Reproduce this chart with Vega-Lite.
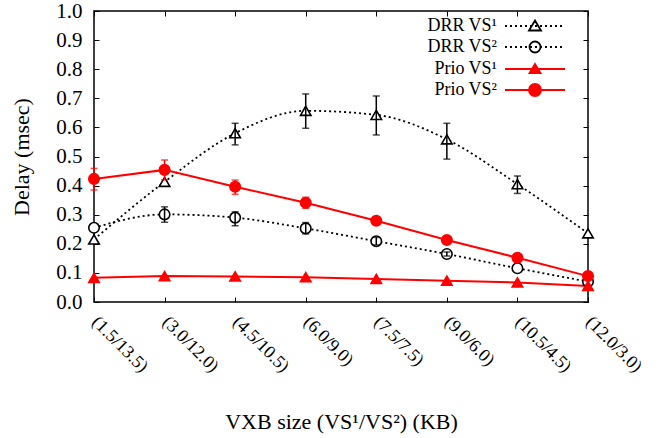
{
  "$schema": "https://vega.github.io/schema/vega-lite/v6.json",
  "width": 494,
  "height": 291,
  "autosize": {"type": "none"},
  "padding": {"left": 94, "top": 11, "right": 83, "bottom": 136},
  "background": "white",
  "config": {
    "view": {"stroke": "black", "strokeWidth": 1.5},
    "font": "Liberation Serif",
    "axis": {
      "grid": false, "domain": false, "tickSize": -5, "tickColor": "black", "tickWidth": 1,
      "labelFont": "Liberation Serif", "labelFontSize": 21, "labelColor": "black",
      "titleFont": "Liberation Serif", "titleFontSize": 22, "titleFontWeight": "normal", "titleColor": "black"
    },
    "legend": {
      "labelFont": "Liberation Serif", "labelFontSize": 18, "labelColor": "black",
      "symbolSize": 400, "symbolStrokeWidth": 1.8, "padding": 0, "rowPadding": 1,
      "labelAlign": "right", "labelOffset": -29
    }
  },
  "data": {
    "values": [
      {"series": "DRR VS¹", "x": "(1.5/13.5)", "y": 0.215},
      {"series": "DRR VS¹", "x": "(3.0/12.0)", "y": 0.413},
      {"series": "DRR VS¹", "x": "(4.5/10.5)", "y": 0.580, "lo": 0.540, "hi": 0.614},
      {"series": "DRR VS¹", "x": "(6.0/9.0)", "y": 0.657, "lo": 0.597, "hi": 0.715},
      {"series": "DRR VS¹", "x": "(7.5/7.5)", "y": 0.643, "lo": 0.574, "hi": 0.708},
      {"series": "DRR VS¹", "x": "(9.0/6.0)", "y": 0.559, "lo": 0.491, "hi": 0.614},
      {"series": "DRR VS¹", "x": "(10.5/4.5)", "y": 0.405, "lo": 0.373, "hi": 0.433},
      {"series": "DRR VS¹", "x": "(12.0/3.0)", "y": 0.236},
      {"series": "DRR VS²", "x": "(1.5/13.5)", "y": 0.255},
      {"series": "DRR VS²", "x": "(3.0/12.0)", "y": 0.301, "lo": 0.274, "hi": 0.327},
      {"series": "DRR VS²", "x": "(4.5/10.5)", "y": 0.290, "lo": 0.262, "hi": 0.310},
      {"series": "DRR VS²", "x": "(6.0/9.0)", "y": 0.253, "lo": 0.234, "hi": 0.273},
      {"series": "DRR VS²", "x": "(7.5/7.5)", "y": 0.209, "lo": 0.196, "hi": 0.222},
      {"series": "DRR VS²", "x": "(9.0/6.0)", "y": 0.165, "lo": 0.158, "hi": 0.172},
      {"series": "DRR VS²", "x": "(10.5/4.5)", "y": 0.116},
      {"series": "DRR VS²", "x": "(12.0/3.0)", "y": 0.070},
      {"series": "Prio VS¹", "x": "(1.5/13.5)", "y": 0.083},
      {"series": "Prio VS¹", "x": "(3.0/12.0)", "y": 0.089},
      {"series": "Prio VS¹", "x": "(4.5/10.5)", "y": 0.088},
      {"series": "Prio VS¹", "x": "(6.0/9.0)", "y": 0.085},
      {"series": "Prio VS¹", "x": "(7.5/7.5)", "y": 0.079},
      {"series": "Prio VS¹", "x": "(9.0/6.0)", "y": 0.073},
      {"series": "Prio VS¹", "x": "(10.5/4.5)", "y": 0.067},
      {"series": "Prio VS¹", "x": "(12.0/3.0)", "y": 0.055},
      {"series": "Prio VS²", "x": "(1.5/13.5)", "y": 0.423, "lo": 0.385, "hi": 0.459},
      {"series": "Prio VS²", "x": "(3.0/12.0)", "y": 0.454, "lo": 0.420, "hi": 0.488},
      {"series": "Prio VS²", "x": "(4.5/10.5)", "y": 0.396, "lo": 0.370, "hi": 0.419},
      {"series": "Prio VS²", "x": "(6.0/9.0)", "y": 0.341, "lo": 0.322, "hi": 0.360},
      {"series": "Prio VS²", "x": "(7.5/7.5)", "y": 0.279},
      {"series": "Prio VS²", "x": "(9.0/6.0)", "y": 0.213},
      {"series": "Prio VS²", "x": "(10.5/4.5)", "y": 0.152},
      {"series": "Prio VS²", "x": "(12.0/3.0)", "y": 0.089}
    ]
  },
  "layer": [
    {
      "transform": [{"filter": "indexof(datum.series, 'DRR') == 0"}],
      "mark": {"type": "line", "interpolate": "monotone", "color": "black", "strokeWidth": 1.8, "strokeDash": [2, 3]},
      "encoding": {
        "x": {"field": "x", "type": "ordinal", "scale": {"type": "point", "padding": 0, "domain": ["(1.5/13.5)","(3.0/12.0)","(4.5/10.5)","(6.0/9.0)","(7.5/7.5)","(9.0/6.0)","(10.5/4.5)","(12.0/3.0)"]},
          "axis": {"orient": "bottom", "title": "VXB size (VS¹/VS²) (KB)", "labelAngle": 45, "labelAlign": "left", "labelBaseline": "middle", "labelFontSize": 18, "labelPadding": 22, "titlePadding": 36}},
        "y": {"field": "y", "type": "quantitative", "scale": {"domain": [0, 1], "nice": false},
          "axis": {"orient": "left", "title": "Delay (msec)", "values": [0,0.1,0.2,0.3,0.4,0.5,0.6,0.7,0.8,0.9,1.0], "format": ".1f", "labelPadding": 17, "titlePadding": 22}},
        "detail": {"field": "series"}
      }
    },
    {
      "transform": [{"filter": "indexof(datum.series, 'Prio') == 0"}],
      "mark": {"type": "line", "color": "red", "strokeWidth": 2},
      "encoding": {
        "x": {"field": "x", "type": "ordinal", "axis": {"orient": "top", "labels": false, "title": null}},
        "y": {"field": "y", "type": "quantitative", "axis": {"orient": "right", "labels": false, "title": null, "values": [0,0.1,0.2,0.3,0.4,0.5,0.6,0.7,0.8,0.9,1.0]}},
        "detail": {"field": "series"}
      }
    },
    {
      "mark": {"type": "point", "size": 110, "strokeWidth": 1.6, "opacity": 1},
      "encoding": {
        "x": {"field": "x", "type": "ordinal", "axis": null},
        "y": {"field": "y", "type": "quantitative", "axis": null},
        "shape": {"field": "series", "type": "nominal", "legend": null,
          "scale": {"domain": ["DRR VS¹","DRR VS²","Prio VS¹","Prio VS²"], "range": ["triangle-up","circle","triangle-up","circle"]}},
        "stroke": {"field": "series", "type": "nominal", "legend": null,
          "scale": {"domain": ["DRR VS¹","DRR VS²","Prio VS¹","Prio VS²"], "range": ["black","black","red","red"]}},
        "fill": {"field": "series", "type": "nominal", "legend": null,
          "scale": {"domain": ["DRR VS¹","DRR VS²","Prio VS¹","Prio VS²"], "range": ["white","white","red","red"]}}
      }
    },
    {
      "transform": [{"filter": "isValid(datum.lo)"}],
      "mark": {"type": "rule", "strokeWidth": 1.5},
      "encoding": {
        "x": {"field": "x", "type": "ordinal", "axis": null},
        "y": {"field": "lo", "type": "quantitative", "axis": null},
        "y2": {"field": "hi"},
        "color": {"field": "series", "type": "nominal", "legend": null,
          "scale": {"domain": ["DRR VS¹","DRR VS²","Prio VS¹","Prio VS²"], "range": ["black","black","red","red"]}}
      }
    },
    {
      "transform": [{"filter": "isValid(datum.lo)"}],
      "mark": {"type": "tick", "size": 7, "thickness": 1.5},
      "encoding": {
        "x": {"field": "x", "type": "ordinal", "axis": null},
        "y": {"field": "lo", "type": "quantitative", "axis": null},
        "color": {"field": "series", "type": "nominal", "legend": null}
      }
    },
    {
      "transform": [{"filter": "isValid(datum.hi)"}],
      "mark": {"type": "tick", "size": 7, "thickness": 1.5},
      "encoding": {
        "x": {"field": "x", "type": "ordinal", "axis": null},
        "y": {"field": "hi", "type": "quantitative", "axis": null},
        "color": {"field": "series", "type": "nominal", "legend": null}
      }
    },
    {
      "mark": {"type": "point", "opacity": 0},
      "encoding": {
        "x": {"field": "x", "type": "ordinal", "axis": null},
        "y": {"field": "y", "type": "quantitative", "axis": null},
        "shape": {"field": "series", "type": "nominal",
          "scale": {"domain": ["DRR VS¹","DRR VS²","Prio VS¹","Prio VS²"], "range": [
            "M-1,0H-0.8M-0.5,0H-0.3M0,0H0.2M0.5,0H0.7M1,0H1.2M1.5,0H1.7M2,0H2.2M2.5,0H2.7M3,0H3.2M3.5,0H3.7M4,0H4.2M4.5,0H4.7M2,-0.55L2.6,0.45L1.4,0.45Z",
            "M-1,0H-0.8M-0.5,0H-0.3M0,0H0.2M0.5,0H0.7M1,0H1.2M1.5,0H1.7M2,0H2.2M2.5,0H2.7M3,0H3.2M3.5,0H3.7M4,0H4.2M4.5,0H4.7M2.55,0A0.55,0.55 0 1,1 1.45,0A0.55,0.55 0 1,1 2.55,0Z",
            "M-1,0H5M2,-0.5L2.55,0.4L1.45,0.4Z",
            "M-1,0H5M2.6,0A0.6,0.6 0 1,1 1.4,0A0.6,0.6 0 1,1 2.6,0Z"
          ]},
          "legend": {"title": null, "orient": "none", "legendX": 410, "legendY": 4,
            "encode": {"symbols": {"update": {"opacity": {"value": 1}}}}}},
        "stroke": {"field": "series", "type": "nominal",
          "scale": {"domain": ["DRR VS¹","DRR VS²","Prio VS¹","Prio VS²"], "range": ["black","black","red","red"]},
          "legend": {"title": null, "orient": "none", "legendX": 410, "legendY": 4,
            "encode": {"symbols": {"update": {"opacity": {"value": 1}}}}}},
        "fill": {"field": "series", "type": "nominal",
          "scale": {"domain": ["DRR VS¹","DRR VS²","Prio VS¹","Prio VS²"], "range": ["white","white","red","red"]},
          "legend": {"title": null, "orient": "none", "legendX": 410, "legendY": 4,
            "encode": {"symbols": {"update": {"opacity": {"value": 1}}}}}}
      }
    }
  ],
  "resolve": {
    "scale": {"shape": "independent", "stroke": "independent", "fill": "independent"},
    "axis": {"x": "independent", "y": "independent"}
  }
}
